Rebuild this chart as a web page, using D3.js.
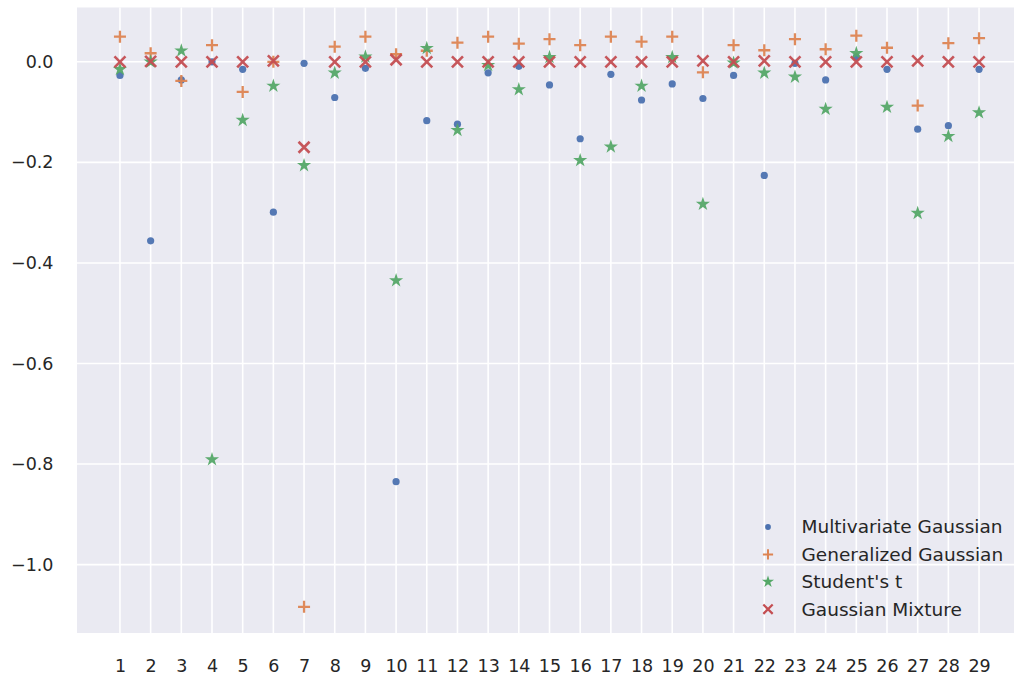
<!DOCTYPE html>
<html>
<head>
<meta charset="utf-8">
<script src="https://cdn.jsdelivr.net/npm/d3@7"></script>
<style>
  body { margin: 0; background: #fff; }
  svg text { font-family: "DejaVu Sans", sans-serif; fill: #262626; }
</style>
</head>
<body>
<div id="scatterplot"></div>
<script>

// feature index on x
var features = d3.range(1, 30)

var multivariate_gaussian = [-0.027, -0.356, -0.036, 0.0, -0.015, -0.299, -0.003, -0.071, -0.013, -0.835,
  -0.117, -0.124, -0.022, -0.009, -0.046, -0.153, -0.025, -0.076, -0.044, -0.073,
  -0.027, -0.226, -0.003, -0.036, 0.010, -0.015, -0.134, -0.127, -0.015]

var generalized_gaussian = [0.050, 0.017, -0.038, 0.033, -0.060, 0.0, -1.084, 0.030, 0.050, 0.015,
  0.022, 0.038, 0.050, 0.036, 0.045, 0.033, 0.050, 0.040, 0.050, -0.021,
  0.033, 0.023, 0.045, 0.025, 0.052, 0.028, -0.087, 0.037, 0.047]

var students_t = [-0.015, 0.0, 0.022, -0.791, -0.116, -0.048, -0.206, -0.022, 0.010, -0.435,
  0.027, -0.136, -0.007, -0.055, 0.009, -0.196, -0.169, -0.048, 0.009, -0.283,
  -0.002, -0.022, -0.030, -0.094, 0.017, -0.090, -0.301, -0.148, -0.101]

var gaussian_mixture = [0.0, 0.001, 0.0, 0.0, 0.0, 0.002, -0.170, 0.0, 0.0, 0.004,
  0.0, 0.0, 0.0, 0.0, 0.0, 0.0, 0.0, 0.0, 0.0, 0.002,
  0.0, 0.002, 0.0, 0.0, 0.0, 0.0, 0.002, 0.0, 0.0]

var y_ticks = [0.0, -0.2, -0.4, -0.6, -0.8, -1.0]

var series_names = ["Multivariate Gaussian", "Generalized Gaussian", "Student's t", "Gaussian Mixture"]
var series_values = [multivariate_gaussian, generalized_gaussian, students_t, gaussian_mixture]
var series_colors = ["#4c72b0", "#dd8452", "#55a868", "#c44e52"]


var containerWidth = 1014, containerHeight = 679

var svg = d3.select("#scatterplot")
  .append("svg")
  .attr("width", containerWidth)
  .attr("height", containerHeight);

// plot box (right edge runs past the picture, like the original)
var plot = { left: 77, top: 7.5, right: 1022, bottom: 633 }

var xScale = d3.scaleLinear().domain([-0.4, 30.4]).range([plot.left, plot.right]),
  yScale = d3.scaleLinear().domain([-1.136, 0.108]).range([plot.bottom, plot.top]);

svg.append("rect")
  .attr("x", plot.left)
  .attr("y", plot.top)
  .attr("width", plot.right - plot.left)
  .attr("height", plot.bottom - plot.top)
  .attr("fill", "#eaeaf2")

// grid
svg.append("g").selectAll("line")
  .data(features)
  .enter().append("line")
  .attr("x1", function (d) { return xScale(d) })
  .attr("x2", function (d) { return xScale(d) })
  .attr("y1", plot.top)
  .attr("y2", plot.bottom)
  .attr("stroke", "#fff")
  .attr("stroke-width", 1.6)

svg.append("g").selectAll("line")
  .data(y_ticks)
  .enter().append("line")
  .attr("x1", plot.left)
  .attr("x2", plot.right)
  .attr("y1", function (d) { return yScale(d) })
  .attr("y2", function (d) { return yScale(d) })
  .attr("stroke", "#fff")
  .attr("stroke-width", 1.6)

// axes, no tick marks or domain line (seaborn darkgrid)
var xAxis = d3.axisBottom(xScale).tickValues(features).tickSize(0).tickPadding(27).tickFormat(d3.format("d"))
var yAxis = d3.axisLeft(yScale).tickValues(y_ticks).tickSize(0).tickPadding(23.5)
  .tickFormat(function (d) { return d3.format(".1f")(d).replace("-", "\u2212") })

var gx = svg.append("g")
  .attr("transform", "translate(0," + plot.bottom + ")")
  .call(xAxis)
var gy = svg.append("g")
  .attr("transform", "translate(" + plot.left + ",0)")
  .call(yAxis)

gx.select(".domain").remove()
gy.select(".domain").remove()
svg.selectAll(".tick text")
  .attr("font-size", "17.5px")
  .attr("font-family", "DejaVu Sans, sans-serif")
  .attr("fill", "#262626")

// marker shapes
function marker(sel, kind, color) {
  if (kind == 0) {
    sel.append("circle").attr("r", 3.6).attr("fill", color)
  } else if (kind == 1) {
    sel.append("path").attr("d", "M-6,0H6M0,-6V6")
      .attr("stroke", color).attr("stroke-width", 2.3).attr("fill", "none")
  } else if (kind == 2) {
    sel.append("path").attr("d", d3.symbol().type(d3.symbolStar).size(62)())
      .attr("fill", color)
  } else {
    sel.append("path").attr("d", "M-5.5,-5.5L5.5,5.5M-5.5,5.5L5.5,-5.5")
      .attr("stroke", color).attr("stroke-width", 2.6).attr("fill", "none")
  }
}

var points = svg.append("g")

for (var s = 0; s < series_values.length; s++) {
  var vals = series_values[s]
  for (var i = 0; i < features.length; i++) {
    var p = points.append("g")
      .attr("transform", "translate(" + xScale(features[i]) + "," + yScale(vals[i]) + ")")
      .attr("opacity", 0.95)
    marker(p, s, series_colors[s])
  }
}

// legend, no frame
var legend = svg.append("g").attr("transform", "translate(768, 527)")
series_names.forEach(function (name, k) {
  var row = legend.append("g").attr("transform", "translate(0," + (k * 27.4) + ")")
  marker(row.append("g").attr("transform", k == 0 ? "scale(0.8)" : "scale(0.85)"), k, series_colors[k])
  row.append("text")
    .attr("x", 33.5)
    .attr("dy", "0.35em")
    .attr("font-size", "18.5px")
    .text(name)
})

</script>
</body>
</html>
